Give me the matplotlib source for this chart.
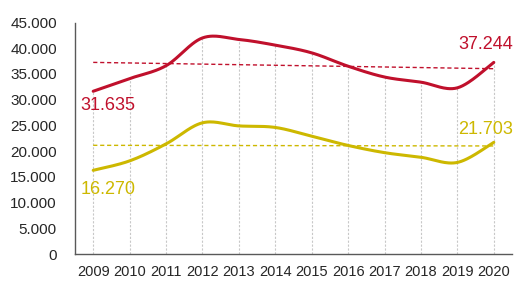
import matplotlib
matplotlib.use("Agg")
import matplotlib.pyplot as plt
import numpy as np
from matplotlib.ticker import FuncFormatter

years = ["2009", "2010", "2011", "2012", "2013", "2014", "2015", "2016", "2017", "2018", "2019", "2020"]
red_values = [31635, 34100, 36600, 42000, 41700, 40600, 39100, 36500, 34400, 33400, 32300, 37244]
yellow_values = [16270, 18100, 21400, 25500, 24900, 24600, 22900, 21100, 19700, 18800, 17800, 21703]
y_ticks = [0, 5000, 10000, 15000, 20000, 25000, 30000, 35000, 40000, 45000]

RED = "#C0102C"
YELLOW = "#CDB800"

plt.rcParams["font.family"] = ["Liberation Sans", "DejaVu Sans"]


def smooth(xs, ys, n=30):
    xs = np.asarray(xs, float)
    ys = np.asarray(ys, float)
    px = np.concatenate([[xs[0]], xs, [xs[-1]]])
    py = np.concatenate([[ys[0]], ys, [ys[-1]]])
    outx, outy = [], []
    t = np.linspace(0, 1, n)
    for i in range(1, len(px) - 2):
        p0 = np.array([px[i], py[i]])
        p3 = np.array([px[i + 1], py[i + 1]])
        c1 = p0 + (np.array([px[i + 1], py[i + 1]]) - np.array([px[i - 1], py[i - 1]])) / 6
        c2 = p3 - (np.array([px[i + 2], py[i + 2]]) - np.array([px[i], py[i]])) / 6
        b = ((1 - t) ** 3)[:, None] * p0 + (3 * (1 - t) ** 2 * t)[:, None] * c1 \
            + (3 * (1 - t) * t ** 2)[:, None] * c2 + (t ** 3)[:, None] * p3
        outx.extend(b[:, 0])
        outy.extend(b[:, 1])
    return np.array(outx), np.array(outy)


fig = plt.figure(figsize=(5.14, 2.82), dpi=100)
ax = fig.add_axes([75 / 514, 28 / 282, 437 / 514, 231.5 / 282])

x = np.arange(len(years))

# drop lines from the upper series down to the axis
ax.vlines(x, 0, red_values, color="#C8C8C8", lw=0.8, linestyles=[(0, (2, 1.5))], zorder=1)

for vals, col in [(red_values, RED), (yellow_values, YELLOW)]:
    sx, sy = smooth(x, vals)
    ax.plot(sx, sy, color=col, lw=2.2, solid_capstyle="round", zorder=3)
    k, b = np.polyfit(x, vals, 1)
    ax.plot([x[0], x[-1]], [k * x[0] + b, k * x[-1] + b], color=col, lw=1.0,
            ls=(0, (3, 2)), zorder=2)

ax.set_xlim(-0.5, 11.5)
ax.set_ylim(0, 45000)
ax.set_yticks(y_ticks)
ax.yaxis.set_major_formatter(FuncFormatter(lambda v, p: f"{int(v):,}".replace(",", ".")))
ax.set_xticks(x)
ax.set_xticklabels(years)
ax.tick_params(axis="y", length=0, pad=13, labelsize=11, colors="#262626")
ax.tick_params(axis="x", length=0, pad=8, labelsize=10.5, colors="#262626")

for s in ["top", "right"]:
    ax.spines[s].set_visible(False)
for s in ["left", "bottom"]:
    ax.spines[s].set_color("#595959")
    ax.spines[s].set_linewidth(1.0)

ax.text(-0.34, 28800, "31.635", color=RED, fontsize=13, ha="left", va="center", clip_on=False)
ax.text(-0.34, 12500, "16.270", color=YELLOW, fontsize=13, ha="left", va="center", clip_on=False)
ax.text(11.53, 40700, "37.244", color=RED, fontsize=13, ha="right", va="center", clip_on=False)
ax.text(11.53, 24200, "21.703", color=YELLOW, fontsize=13, ha="right", va="center", clip_on=False)

fig.savefig("out.png", dpi=100)
